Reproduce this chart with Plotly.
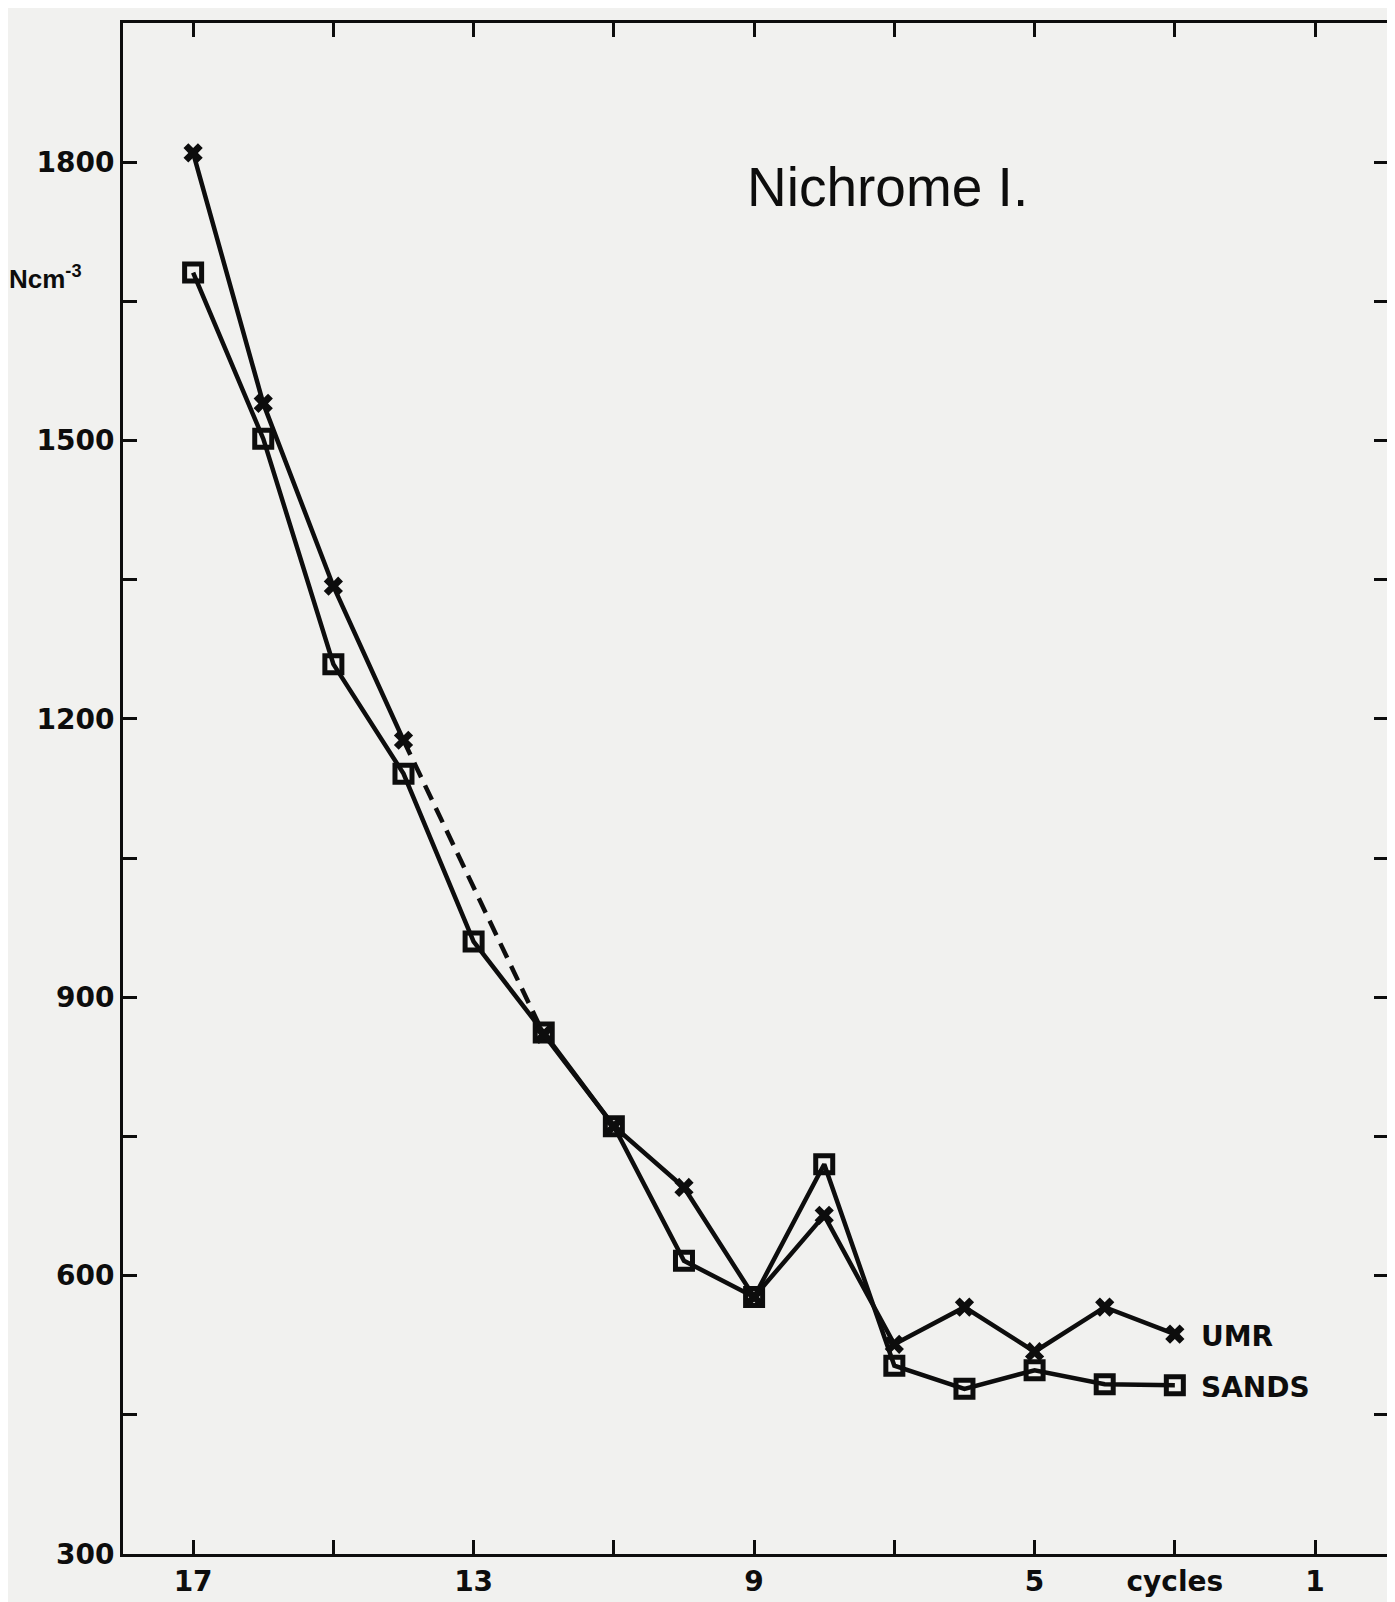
import plotly.graph_objects as go

# ---- data ----
cycles = [17, 16, 15, 14, 13, 12, 11, 10, 9, 8, 7, 6, 5, 4, 3]
umr = [1810, 1540, 1343, 1177, None, 860, 761, 695, 577, 665, 526, 566, 518, 566, 537]
sands = [1681, 1502, 1259, 1141, 960, 862, 761, 616, 577, 720, 503, 478, 498, 483, 482]

x_tickvals = [17, 13, 9, 5, 3, 1]
x_ticktext = ["17", "13", "9", "5", "cycles", "1"]
y_tickvals = [300, 600, 900, 1200, 1500, 1800]
y_ticktext = ["300", "600", "900", "1200", "1500", "1800"]

title_text = "Nichrome I."
y_label = "Ncm<sup>-3</sup>"

BG = "#f1f1ef"
INK = "#0d0d0d"
FONT = "DejaVu Sans"
TFONT = "Liberation Sans"

fig = go.Figure()

# dashed bridge for UMR across the missing point (cycle 13)
i14 = cycles.index(14)
i12 = cycles.index(12)
fig.add_trace(go.Scatter(
    x=[cycles[i14], cycles[i12]], y=[umr[i14], umr[i12]],
    mode="lines", line=dict(color=INK, width=4.5, dash="16px,9px"),
    showlegend=False, hoverinfo="skip"))

fig.add_trace(go.Scatter(
    x=cycles, y=sands, name="SANDS", mode="lines+markers",
    line=dict(color=INK, width=4.5),
    marker=dict(symbol="square-open", size=17, color=INK, line=dict(width=5, color=INK)),
    showlegend=False))

fig.add_trace(go.Scatter(
    x=cycles, y=umr, name="UMR", mode="lines+markers", connectgaps=False,
    line=dict(color=INK, width=4.5),
    marker=dict(symbol="x", size=17, color=INK, line=dict(width=0)),
    showlegend=False))

# series labels at the last points
fig.add_annotation(x=cycles[-1], y=umr[-1], text="UMR", showarrow=False,
                   xanchor="left", xshift=24, yshift=-2,
                   font=dict(family=FONT, size=28, color=INK, weight="bold"))
fig.add_annotation(x=cycles[-1], y=sands[-1], text="SANDS", showarrow=False,
                   xanchor="left", xshift=24, yshift=-2,
                   font=dict(family=FONT, size=28, color=INK, weight="bold"))

# title inside the plot
fig.add_annotation(x=0.604, y=0.893, xref="paper", yref="paper", text=title_text,
                   showarrow=False, xanchor="center", yanchor="middle",
                   font=dict(family=TFONT, size=55, color=INK))

# y-axis unit label
fig.add_annotation(x=-0.092, y=0.834, xref="paper", yref="paper", text=y_label,
                   showarrow=False, xanchor="left", yanchor="middle",
                   font=dict(family=TFONT, size=26, color=INK, weight="bold"))

axis_common = dict(ticks="inside", ticklen=14, tickwidth=2.5, tickcolor=INK,
                   showline=True, linecolor=INK, linewidth=3, mirror="ticks",
                   showgrid=False, zeroline=False,
                   tickfont=dict(family=FONT, size=28, color=INK, weight="bold"))

fig.update_layout(
    width=1395, height=1602,
    margin=dict(l=115, r=15, t=13, b=45),
    paper_bgcolor=BG, plot_bgcolor=BG,
    xaxis=dict(range=[18, -0.04], tickmode="array", tickvals=x_tickvals, ticktext=x_ticktext,
               minor=dict(tickmode="linear", tick0=1, dtick=2, ticks="inside",
                          ticklen=14, tickwidth=2.5, tickcolor=INK, showgrid=False),
               **axis_common),
    yaxis=dict(range=[300, 1950], tickmode="array", tickvals=y_tickvals, ticktext=y_ticktext,
               minor=dict(tickmode="linear", tick0=300, dtick=150, ticks="inside",
                          ticklen=14, tickwidth=2.5, tickcolor=INK, showgrid=False),
               **axis_common),
)

fig.write_html("out.html")
